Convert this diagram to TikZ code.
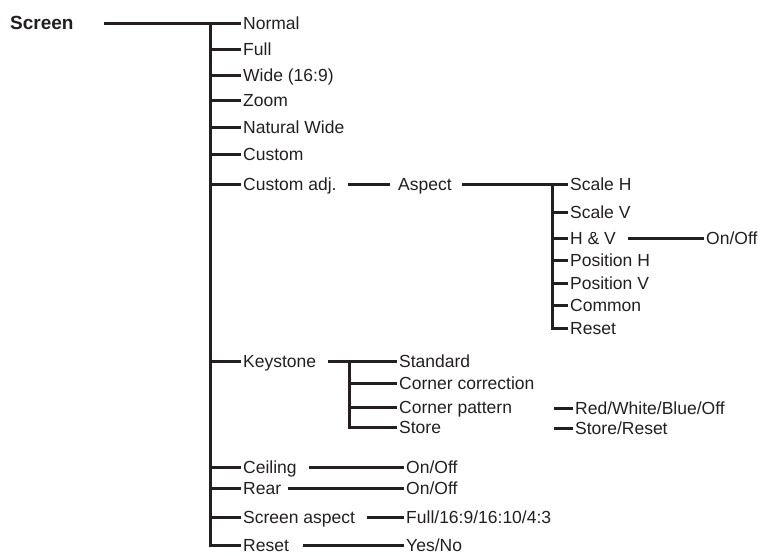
\documentclass[tikz,border=0pt]{standalone}
\usepackage{fontspec}
\setmainfont{Liberation Sans}
\usetikzlibrary{positioning}
\definecolor{ink}{HTML}{231F20}

\begin{document}
\begin{tikzpicture}[x=1pt,y=-1pt,
  item/.style={anchor=west,inner xsep=2pt,inner ysep=0pt,text height=12.4pt,text depth=0pt,text=ink,font=\fontsize{17.5}{19}\selectfont},
  wire/.style={draw=ink,line width=3pt}]
\useasboundingbox (0,0) rectangle (778,555);
% top level
\node[item,font=\bfseries\fontsize{19}{22}\selectfont,text height=12pt] (screen) at (8,23) {Screen};
\node[item] (normal) at (241,23) {Normal};
\node[item] (full) at (241,49) {Full};
\node[item] (wide) at (241,75) {Wide (16:9)};
\node[item] (zoom) at (241,100) {Zoom};
\node[item] (natwide) at (241,127) {Natural Wide};
\node[item] (custom) at (241,154) {Custom};
\node[item] (cadj) at (241,184) {Custom adj.};
\node[item] (keystone) at (241,361) {Keystone};
\node[item] (ceiling) at (241,467) {Ceiling};
\node[item] (rear) at (241,488) {Rear};
\node[item] (saspect) at (241,517) {Screen aspect};
\node[item] (reset) at (241,545) {Reset};
\coordinate (trunk) at (210,23);
\draw[wire] ([xshift=28pt]screen.east) -- (normal.west);
\draw[wire] (trunk) -- (trunk |- reset.west) -- (reset.west);
\foreach \n in {full,wide,zoom,natwide,custom,cadj,keystone,ceiling,rear,saspect}
  \draw[wire] (trunk |- \n.west) -- (\n.west);
% custom adj.
\node[item] (aspect) at (396,184) {Aspect};
\draw[wire] ([xshift=9pt]cadj.east) -- ([xshift=-6pt]aspect.west);
\node[item] (scaleh) at (568,184) {Scale H};
\node[item] (scalev) at (568,212) {Scale V};
\node[item] (hv) at (568,238) {H \& V};
\node[item] (posh) at (568,260) {Position H};
\node[item] (posv) at (568,283) {Position V};
\node[item] (common) at (568,305) {Common};
\node[item] (areset) at (568,328) {Reset};
\node[item] (hvval) at (704,238) {On/Off};
\coordinate (atr) at (552,184);
\draw[wire] ([xshift=8pt]aspect.east) -- (scaleh.west);
\draw[wire] (atr) -- (atr |- areset.west) -- (areset.west);
\foreach \n in {scalev,hv,posh,posv,common}
  \draw[wire] (atr |- \n.west) -- (\n.west);
\draw[wire] ([xshift=10pt]hv.east) -- (hvval.west);
% keystone
\node[item] (standard) at (397,361) {Standard};
\node[item] (corrcorr) at (397,383) {Corner correction};
\node[item] (cornpat) at (397,407) {Corner pattern};
\node[item] (kstore) at (397,427) {Store};
\node[item] (rwbo) at (573,408) {Red/White/Blue/Off};
\node[item] (storeres) at (573,428) {Store/Reset};
\coordinate (ktr) at (349,361);
\draw[wire] ([xshift=10pt]keystone.east) -- (standard.west);
\draw[wire] (ktr) -- (ktr |- kstore.west) -- (kstore.west);
\foreach \n in {corrcorr,cornpat}
  \draw[wire] (ktr |- \n.west) -- (\n.west);
\draw[wire] ([xshift=-19pt]rwbo.west) -- (rwbo.west);
\draw[wire] ([xshift=-19pt]storeres.west) -- (storeres.west);
% settings
\node[item] (ceilval) at (404,467) {On/Off};
\node[item] (rearval) at (404,488) {On/Off};
\node[item] (aspval) at (404,517) {Full/16:9/16:10/4:3};
\node[item] (resval) at (404,545) {Yes/No};
\draw[wire] ([xshift=10pt]ceiling.east) -- (ceilval.west);
\draw[wire] ([xshift=5pt]rear.east) -- (rearval.west);
\draw[wire] ([xshift=10pt]saspect.east) -- (aspval.west);
\draw[wire] ([xshift=12pt]reset.east) -- (resval.west);
\end{tikzpicture}
\end{document}
